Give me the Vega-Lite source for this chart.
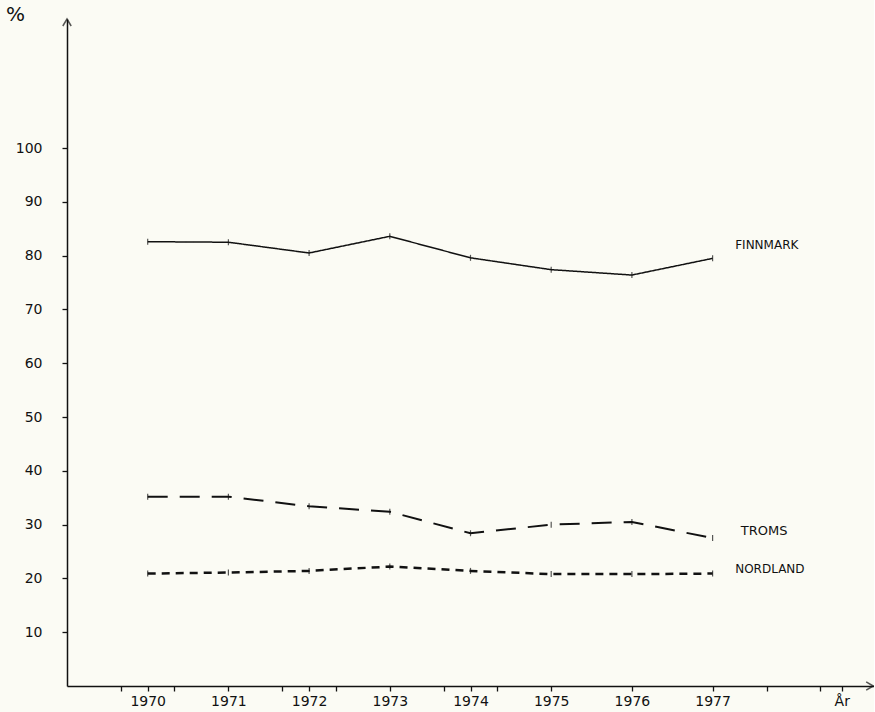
{
  "$schema": "https://vega.github.io/schema/vega-lite/v6.json",
  "autosize": "none",
  "width": 807,
  "height": 667,
  "padding": {"left": 67, "top": 19, "right": 0, "bottom": 26},
  "background": "#fbfbf4",
  "config": {
    "view": {"stroke": null},
    "font": "DejaVu Sans",
    "axis": {"domainColor": "#111", "tickColor": "#111", "labelColor": "#111", "titleColor": "#111", "grid": false, "domainWidth": 1.5, "tickWidth": 1.3}
  },
  "data": {
    "values": [
      {"year": 1970, "series": "FINNMARK", "value": 82.6},
      {"year": 1971, "series": "FINNMARK", "value": 82.5},
      {"year": 1972, "series": "FINNMARK", "value": 80.5},
      {"year": 1973, "series": "FINNMARK", "value": 83.6},
      {"year": 1974, "series": "FINNMARK", "value": 79.6},
      {"year": 1975, "series": "FINNMARK", "value": 77.4},
      {"year": 1976, "series": "FINNMARK", "value": 76.4},
      {"year": 1977, "series": "FINNMARK", "value": 79.5},
      {"year": 1970, "series": "TROMS", "value": 35.2},
      {"year": 1971, "series": "TROMS", "value": 35.2},
      {"year": 1972, "series": "TROMS", "value": 33.4},
      {"year": 1973, "series": "TROMS", "value": 32.4},
      {"year": 1974, "series": "TROMS", "value": 28.4},
      {"year": 1975, "series": "TROMS", "value": 30.0},
      {"year": 1976, "series": "TROMS", "value": 30.5},
      {"year": 1977, "series": "TROMS", "value": 27.5},
      {"year": 1970, "series": "NORDLAND", "value": 20.9},
      {"year": 1971, "series": "NORDLAND", "value": 21.1},
      {"year": 1972, "series": "NORDLAND", "value": 21.4},
      {"year": 1973, "series": "NORDLAND", "value": 22.2},
      {"year": 1974, "series": "NORDLAND", "value": 21.4},
      {"year": 1975, "series": "NORDLAND", "value": 20.8},
      {"year": 1976, "series": "NORDLAND", "value": 20.8},
      {"year": 1977, "series": "NORDLAND", "value": 20.9}
    ]
  },
  "encoding": {
    "x": {
      "field": "year", "type": "quantitative",
      "scale": {"domain": [1969, 1979], "nice": false, "zero": false},
      "axis": {
        "title": null,
        "values": [1969.67, 1970, 1970.33, 1971, 1971.67, 1972, 1972.33, 1973, 1973.67, 1974, 1974.33, 1975, 1976, 1977, 1977.67, 1978.33, 1978.6],
        "labelExpr": "datum.value == 1978.6 ? 'År' : (datum.value % 1 == 0 ? toString(datum.value) : '')",
        "labelFontSize": 14,
        "labelPadding": 3,
        "tickSize": 5,
        "labelFlush": false,
        "labelOverlap": false
      }
    },
    "y": {
      "field": "value", "type": "quantitative",
      "scale": {"domain": [0, 124], "nice": false},
      "axis": {
        "title": "%",
        "titleAngle": 0,
        "titleX": -52,
        "titleY": -5,
        "titleAlign": "center",
        "titleBaseline": "middle",
        "titleFontSize": 20,
        "titleFontWeight": "normal",
        "values": [10, 20, 30, 40, 50, 60, 70, 80, 90, 100],
        "labelFontSize": 14,
        "labelPadding": 20,
        "tickSize": 5
      }
    }
  },
  "layer": [
    {
      "mark": {"type": "line", "color": "#111"},
      "encoding": {
        "detail": {"field": "series"},
        "strokeDash": {"field": "series", "type": "nominal", "scale": {"domain": ["FINNMARK", "TROMS", "NORDLAND"], "range": [[1, 0], [20, 12], [8, 6]]}, "legend": null},
        "strokeWidth": {"field": "series", "type": "nominal", "scale": {"domain": ["FINNMARK", "TROMS", "NORDLAND"], "range": [1.5, 2.5, 1.5]}, "legend": null}
      }
    },
    {
      "mark": {"type": "tick", "orient": "vertical", "size": 6, "thickness": 1.2, "color": "#111"}
    },
    {
      "transform": [{"filter": "datum.year == 1977 && datum.series == 'FINNMARK'"}],
      "mark": {"type": "text", "text": "FINNMARK", "align": "left", "baseline": "middle", "fontSize": 12, "color": "#111"},
      "encoding": {"x": {"datum": 1977.28}, "y": {"datum": 82}}
    },
    {
      "transform": [{"filter": "datum.year == 1977 && datum.series == 'TROMS'"}],
      "mark": {"type": "text", "text": "TROMS", "align": "left", "baseline": "middle", "fontSize": 13, "color": "#111"},
      "encoding": {"x": {"datum": 1977.35}, "y": {"datum": 28.8}}
    },
    {
      "transform": [{"filter": "datum.year == 1977 && datum.series == 'NORDLAND'"}],
      "mark": {"type": "text", "text": "NORDLAND", "align": "left", "baseline": "middle", "fontSize": 12, "color": "#111"},
      "encoding": {"x": {"datum": 1977.28}, "y": {"datum": 21.7}}
    },
    {
      "transform": [{"filter": "datum.year == 1970 && datum.series == 'FINNMARK'"}],
      "mark": {"type": "point", "shape": "M-0.6,1L0,0L0.6,1", "filled": false, "size": 196, "stroke": "#111", "strokeWidth": 1.5},
      "encoding": {"x": {"datum": 1969}, "y": {"datum": 124}}
    },
    {
      "transform": [{"filter": "datum.year == 1970 && datum.series == 'FINNMARK'"}],
      "mark": {"type": "point", "shape": "M-1,-0.6L0,0L-1,0.6", "filled": false, "size": 196, "stroke": "#111", "strokeWidth": 1.5},
      "encoding": {"x": {"datum": 1978.99}, "y": {"datum": 0}}
    }
  ]
}
